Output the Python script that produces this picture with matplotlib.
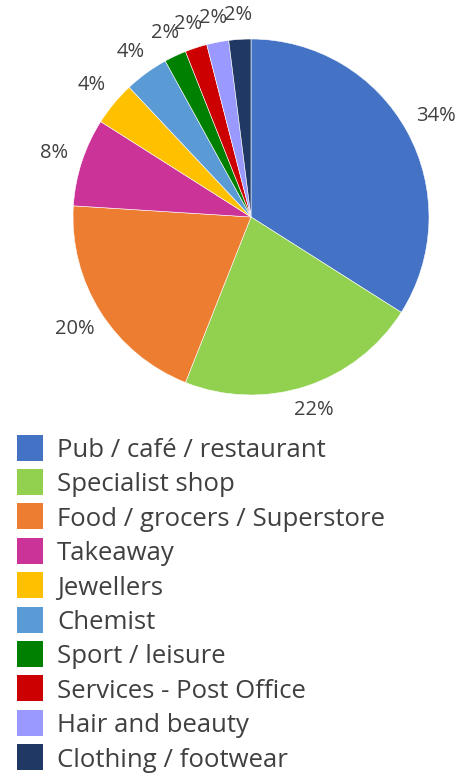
import matplotlib
matplotlib.use("Agg")
import matplotlib.pyplot as plt
import numpy as np
from matplotlib.patches import Rectangle

# Share of units by business type (%)
categories = [
    "Pub / café / restaurant",
    "Specialist shop",
    "Food / grocers / Superstore",
    "Takeaway",
    "Jewellers",
    "Chemist",
    "Sport / leisure",
    "Services - Post Office",
    "Hair and beauty",
    "Clothing / footwear",
]
shares = [34, 22, 20, 8, 4, 4, 2, 2, 2, 2]
colors = [
    "#4472C4", "#92D050", "#ED7D31", "#CC3399", "#FFC000",
    "#5B9BD5", "#008000", "#CC0000", "#9999FF", "#203864",
]

TEXT = "#404040"
plt.rcParams["font.family"] = ["Open Sans", "DejaVu Sans"]

W, H = 469, 778
fig = plt.figure(figsize=(W / 100, H / 100), dpi=100)

# pie centred at (251, 217) px, radius 178 px
cx, cy, r = 251, 217, 178
ax = fig.add_axes([(cx - r) / W, 1 - (cy + r) / H, 2 * r / W, 2 * r / H])
wedges, _ = ax.pie(
    shares,
    colors=colors,
    startangle=90,
    counterclock=False,
    wedgeprops=dict(edgecolor="white", linewidth=0.4),
)

# percentage labels just outside the rim ("outside end")
gap = 0.09
for w, val in zip(wedges, shares):
    ang = np.deg2rad((w.theta1 + w.theta2) / 2)
    c, s = np.cos(ang), np.sin(ang)
    half_w = 0.05 * len(f"{val}%") / 2 + 0.02
    half_h = 0.045
    ext = min(half_w / max(abs(c), 1e-6), half_h / max(abs(s), 1e-6))
    d = 1 + gap + ext
    ax.text(d * c, d * s, f"{val}%", color=TEXT, fontsize=14.5,
            ha="center", va="center")

ax.set_xlim(-1, 1)
ax.set_ylim(-1, 1)
ax.set_aspect("equal")
ax.axis("off")

# legend, one row per category
top, step = 447.5, 34.4
for i, (name, col) in enumerate(zip(categories, colors)):
    yc = top + i * step
    fig.add_artist(Rectangle((17 / W, 1 - (yc + 13) / H), 26 / W, 26 / H,
                             transform=fig.transFigure, color=col, lw=0))
    fig.text(57 / W, 1 - yc / H, name, color=TEXT, fontsize=18.5,
             va="center_baseline", ha="left")

fig.savefig("out.png", dpi=100)
